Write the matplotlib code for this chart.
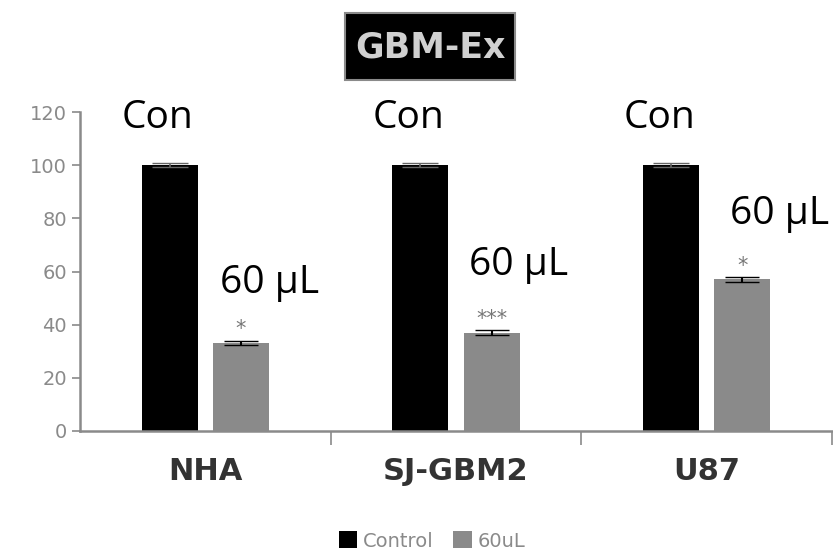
import numpy as np
import matplotlib.pyplot as plt
from matplotlib.patches import Rectangle

# data
cells = ['NHA', 'SJ-GBM2', 'U87']
control = [100, 100, 100]
treated = [33, 37, 57]
control_err = [0.8, 0.8, 0.8]
treated_err = [0.8, 1.0, 1.0]
stars = ['*', '***', '*']
yticks = [0, 20, 40, 60, 80, 100, 120]
# where the "60 uL" labels sit (category x, baseline y)
dose_pos = [(0.255, 52), (1.25, 58.5), (2.29, 78)]

plt.rcParams['font.family'] = ['DejaVu Sans']

fig = plt.figure(figsize=(8.33, 5.57), dpi=100)
ax = fig.add_axes([80/833, 1 - 431/557, 752/833, 319/557])

x = np.arange(len(cells))
w = 0.223
off = 0.142
ax.bar(x - off, control, w, color='black', yerr=control_err,
       error_kw=dict(ecolor='#666666', capsize=13, lw=1.2), label='Control')
ax.bar(x + off, treated, w, color='#8a8a8a', yerr=treated_err,
       error_kw=dict(ecolor='black', capsize=12, lw=1.5), label='60uL')

for i in range(len(cells)):
    ax.text(x[i] - 0.19, 114, 'Con', ha='center', va='baseline',
            fontsize=28, family=['Open Sans', 'DejaVu Sans'], clip_on=False)
    ax.text(x[i] + off, treated[i] + 3, stars[i], ha='center', va='baseline',
            fontsize=15, color='#777777')
for (lx, ly) in dose_pos:
    ax.text(lx, ly, '60 µL', ha='center', va='baseline', fontsize=28,
            family=['Open Sans', 'DejaVu Sans'], clip_on=False)

ax.set_xlim(-0.5, 2.5)
ax.set_ylim(0, 120)
ax.set_yticks(yticks)
ax.tick_params(axis='y', labelsize=14, labelcolor='#8a8a8a', colors='#8a8a8a',
               direction='out', length=6, width=1.2)
ax.set_xticks(x)
ax.set_xticklabels(cells, fontsize=22, fontweight='bold', color='#333333')
ax.tick_params(axis='x', which='major', length=0, pad=19)
ax.set_xticks([0.5, 1.5, 2.5], minor=True)
ax.tick_params(axis='x', which='minor', length=10, width=1.2, color='#8a8a8a')

for s in ['top', 'right']:
    ax.spines[s].set_visible(False)
for s in ['left', 'bottom']:
    ax.spines[s].set_color('#8a8a8a')
    ax.spines[s].set_linewidth(1.8)

leg = ax.legend(loc='center', bbox_to_anchor=(432/833, 1 - 541/557),
                bbox_transform=fig.transFigure, ncol=2, frameon=False,
                fontsize=14, handlelength=0.95, handleheight=0.95,
                columnspacing=1.0, handletextpad=0.3, labelcolor='#8a8a8a')

# title in a black box
fig.patches.append(Rectangle((345/833, 1 - 80/557), 170/833, 67/557,
                             transform=fig.transFigure, fc='black',
                             ec='#8a8a8a', lw=1.5))
fig.text(430/833, 1 - 48/557, 'GBM-Ex', ha='center', va='center',
         fontsize=25, fontweight='bold', color='#d0d0d0')

plt.savefig('out.png', dpi=100)
